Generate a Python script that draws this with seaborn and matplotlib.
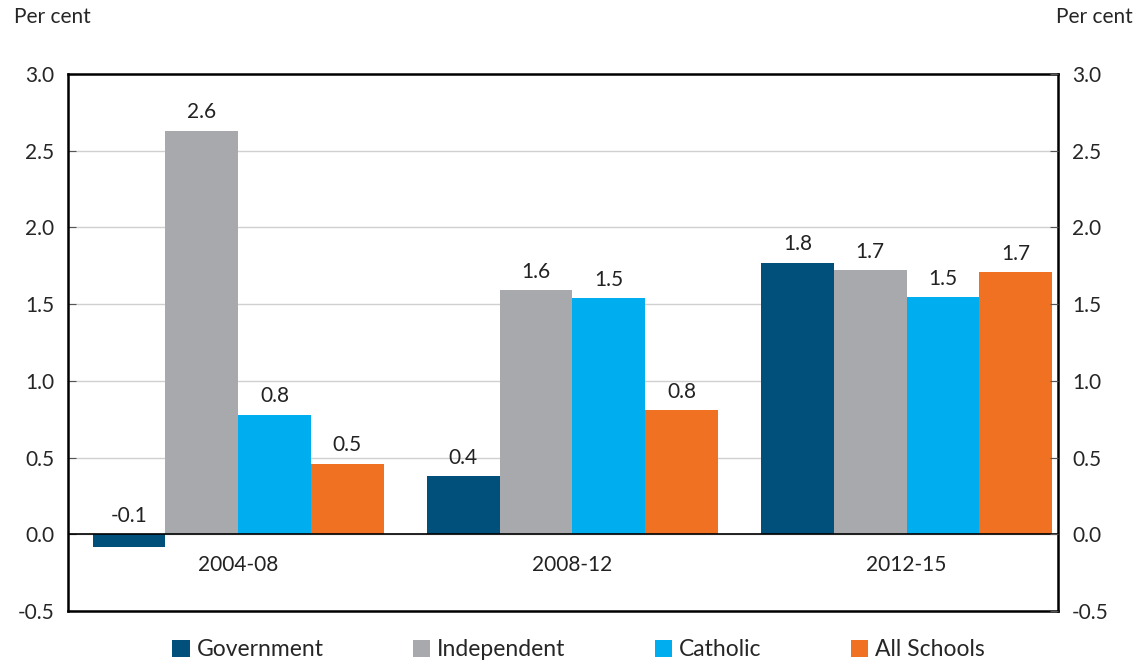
import numpy as np
import pandas as pd
import seaborn as sns
import matplotlib
matplotlib.use("Agg")
import matplotlib.pyplot as plt

# values (per cent)
periods = ["2004-08", "2008-12", "2012-15"]
sectors = ["Government", "Independent", "Catholic", "All Schools"]
government = [-0.085, 0.38, 1.77]
independent = [2.63, 1.59, 1.72]
catholic = [0.78, 1.54, 1.545]
all_schools = [0.46, 0.81, 1.71]
yticks = [-0.5, 0.0, 0.5, 1.0, 1.5, 2.0, 2.5, 3.0]

colors = ["#00507b", "#a7a9ac", "#00aeef", "#f07122"]

df = pd.DataFrame({
    "period": periods * 4,
    "sector": np.repeat(sectors, 3),
    "value": government + independent + catholic + all_schools,
})

sns.set_style("white")
plt.rcParams["font.family"] = ["Lato", "DejaVu Sans"]
FS = 15

fig = plt.figure(figsize=(11.41, 6.63), dpi=100)
ax = fig.add_axes([68 / 1141, 1 - 611 / 663, 990 / 1141, 537 / 663])

sns.barplot(data=df, x="period", y="value", hue="sector", order=periods,
            hue_order=sectors, palette=colors, width=0.87, gap=0,
            saturation=1, ax=ax, legend=True, linewidth=0)

ax.set_xlim(-0.509, 2.453)
ax.set_ylim(-0.5, 3.0)
ax.set_yticks(yticks)
ax.set_yticklabels([f"{t:.1f}" for t in yticks], fontsize=FS)
ax.yaxis.grid(True, color="#d0d0d0", linewidth=1)
ax.set_axisbelow(True)
ax.axhline(0, color="black", linewidth=1.2, zorder=3)
ax.set_xlabel("")
ax.set_ylabel("")
ax.set_xticks(range(len(periods)))
ax.set_xticklabels([])
ax.tick_params(axis="x", length=0)
ax.tick_params(axis="y", direction="in", length=6, color="#555555", pad=10)
for s in ax.spines.values():
    s.set_visible(True)
    s.set_color("black")
    s.set_linewidth(1.8)

# category labels sit just below the zero line
for i, p in enumerate(periods):
    ax.text(i, -0.2, p, ha="center", va="center", fontsize=FS, color="#222222")

# value labels
for cont in ax.containers:
    for bar, v in zip(cont, cont.datavalues):
        ax.annotate(f"{v:.1f}", (bar.get_x() + bar.get_width() / 2, max(v, 0)),
                    xytext=(0, 6), textcoords="offset points",
                    ha="center", va="bottom", fontsize=FS, color="#222222")

# right axis
ax2 = ax.twinx()
ax2.set_ylim(ax.get_ylim())
ax2.set_yticks(yticks)
ax2.set_yticklabels([f"{t:.1f}" for t in yticks], fontsize=FS)
ax2.tick_params(axis="y", direction="in", length=6, color="#555555", pad=10)
for s in ax2.spines.values():
    s.set_visible(False)

fig.text(14 / 1141, 1 - 17 / 663, "Per cent", fontsize=FS, va="center", ha="left")
fig.text(1133 / 1141, 1 - 17 / 663, "Per cent", fontsize=FS, va="center", ha="right")

handles, labs = ax.get_legend_handles_labels()
ax.get_legend().remove()
fig.legend(handles, labs, loc="center", bbox_to_anchor=(0.507, 1 - 650 / 663),
           ncol=4, frameon=False, fontsize=16.5, handlelength=0.75,
           handleheight=0.75, handletextpad=0.3, columnspacing=3.9)

fig.savefig("out.png", dpi=100)
